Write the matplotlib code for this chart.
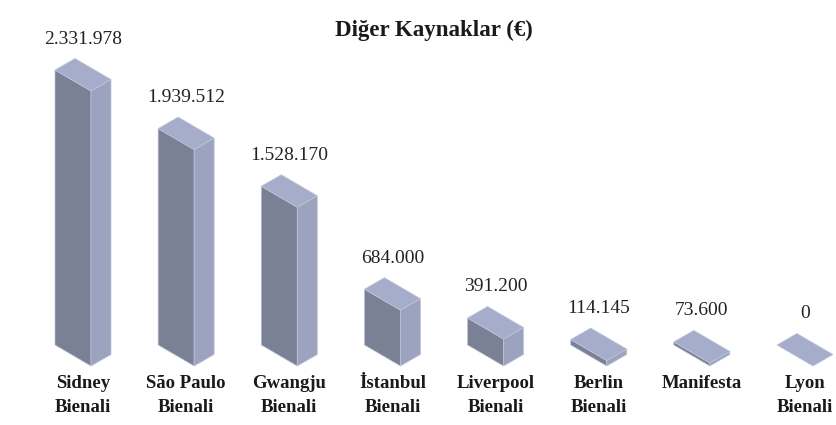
import numpy as np
import matplotlib.pyplot as plt
from matplotlib.patches import Polygon
from matplotlib.transforms import IdentityTransform

plt.rcParams['font.family'] = ['Liberation Serif', 'DejaVu Serif']

# data
categories = ["Sidney\nBienali", "São Paulo\nBienali", "Gwangju\nBienali", "İstanbul\nBienali",
              "Liverpool\nBienali", "Berlin\nBienali", "Manifesta", "Lyon\nBienali"]
values = [2331978, 1939512, 1528170, 684000, 391200, 114145, 73600, 0]
title = "Diğer Kaynaklar (€)"

# colours of the three faces
c_left = '#7a8195'
c_right = '#9ba3bf'
c_top = '#a6adcb'
c_edge = '#bfc4d8'

# the reference bars are not linear in value; a mild power scale follows it
p = 1.3
def fwd(y):
    return np.power(np.clip(y, 0, None), p)
def inv(y):
    return np.power(np.clip(y, 0, None), 1 / p)

fig = plt.figure(figsize=(8.36, 4.25), dpi=100)
ax = fig.add_axes([0, 59 / 425, 1, 275 / 425])
step = 103.14
ax.set_xlim(-83 / step, (836 - 83) / step)
ax.set_yscale('function', functions=(fwd, inv))
ax.set_ylim(0, max(values))
ax.axis('off')

# iso offsets in pixels, relative to the top-face centre / front corner
fx = 8        # front corner right of centre
wl, hl = 36, 21     # left face
wr, hr = 20, 11.5   # right face

for i, v in enumerate(values):
    cx, yb = ax.transData.transform((i, 0))
    _, yt = ax.transData.transform((i, v))
    xf = cx + fx
    h = yt - yb
    faces = []
    if h > 0.5:
        faces.append(([(xf - wl, yb + hl), (xf, yb), (xf, yt), (xf - wl, yt + hl)], c_left))
        faces.append(([(xf, yb), (xf + wr, yb + hr), (xf + wr, yt + hr), (xf, yt)], c_right))
    faces.append(([(xf, yt), (xf - wl, yt + hl), (xf - wl + wr, yt + hl + hr), (xf + wr, yt + hr)], c_top))
    for verts, col in faces:
        ax.add_patch(Polygon(verts, closed=True, facecolor=col, edgecolor=c_edge,
                             linewidth=0.5, transform=IdentityTransform(), clip_on=False))

    lab = f"{v:,}".replace(",", ".")
    ax.annotate(lab, xy=(i, v), xytext=(0, 52), textcoords='offset pixels',
                ha='center', va='center', fontsize=14, color='#222222',
                annotation_clip=False)
    ax.annotate(categories[i], xy=(i, 0), xytext=(0, -9), textcoords='offset pixels',
                ha='center', va='top', fontsize=13.5, fontweight='bold', color='#1a1a1a',
                linespacing=1.5, annotation_clip=False)

fig.text(434 / 836, 1 - 30 / 425, title, ha='center', va='center',
         fontsize=16.5, fontweight='bold', color='#1a1a1a')

fig.savefig('out.png', dpi=100)
